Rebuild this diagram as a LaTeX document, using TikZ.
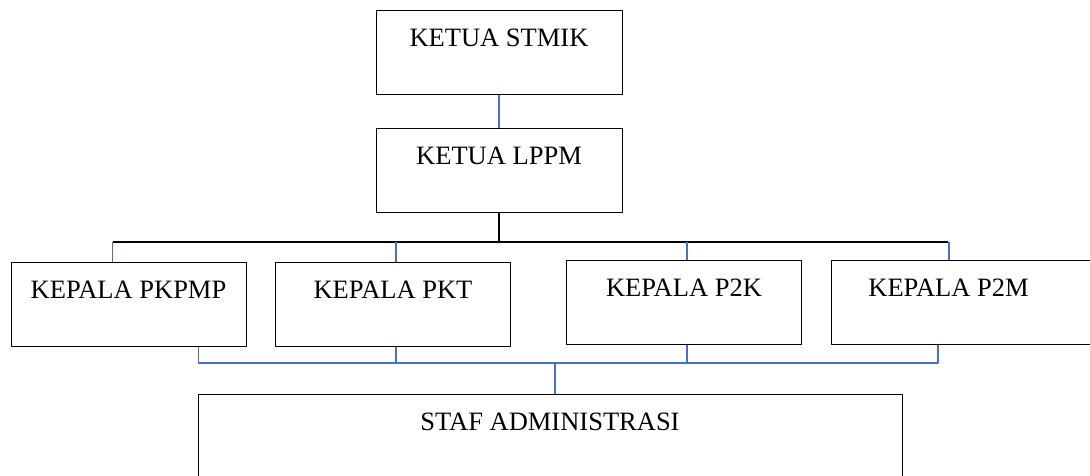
\documentclass[tikz,border=0pt]{standalone}
\usepackage{fontspec}
\setmainfont{Liberation Serif}
\definecolor{garisbiru}{RGB}{68,114,196}
\tikzset{
  kotak/.style={draw, line width=1pt, inner sep=0pt, minimum width=235pt,
    text height=36pt, text depth=48pt, anchor=north,
    font=\fontsize{26.5}{30}\selectfont},
  biru/.style={draw=garisbiru, line width=1.5pt},
  hitam/.style={draw=black, line width=1.5pt}
}
\begin{document}
\begin{tikzpicture}[x=1pt, y=-1pt, line join=round]
\useasboundingbox (0,0) rectangle (1090,475);
\node[kotak, minimum width=246pt] (stmik) at (499,10) {KETUA STMIK};
\node[kotak, minimum width=246pt] (lppm) at (499,128) {KETUA LPPM};
\node[kotak] (pkpmp) at (128.5,262) {KEPALA PKPMP};
\node[kotak] (pkt) at (393,262) {KEPALA PKT};
\node[kotak] (ptk) at (684,260) {KEPALA P2K};
\node[kotak, minimum width=270pt, anchor=north west] (ptm) at (831,260) {KEPALA P2M\hspace*{36pt}};
\node[kotak, minimum width=704pt] (staf) at (550,394) {STAF ADMINISTRASI};
\coordinate (atas) at (0,242);
\coordinate (bawah) at (0,363);
% garis ke atas
\draw[biru] (stmik.south) -- (lppm.north);
\draw[hitam] (lppm.south) -- (lppm.south |- atas);
\draw[hitam] ([xshift=-16pt]pkpmp.north |- atas) -- ([xshift=1pt]pkt.north |- atas)
  -- ([xshift=117pt]ptm.north west |- atas);
\draw[biru] ([xshift=-16pt]pkpmp.north |- atas) -- ([xshift=-16pt]pkpmp.north);
\draw[biru] ([xshift=3pt]pkt.north |- atas) -- ([xshift=3pt]pkt.north);
\draw[biru] ([xshift=3pt]ptk.north |- atas) -- ([xshift=3pt]ptk.north);
\draw[biru] ([xshift=118pt]ptm.north west |- atas) -- ([xshift=118pt]ptm.north west);
% garis ke bawah
\draw[biru] ([xshift=70pt]pkpmp.south) -- ([xshift=70pt]pkpmp.south |- bawah)
  -- ([xshift=107pt]ptm.south west |- bawah) -- ([xshift=107pt]ptm.south west);
\draw[biru] ([xshift=3pt]pkt.south) -- ([xshift=3pt]pkt.south |- bawah);
\draw[biru] ([xshift=3pt]ptk.south) -- ([xshift=3pt]ptk.south |- bawah);
\draw[biru] ([xshift=5pt]staf.north |- bawah) -- ([xshift=5pt]staf.north);
\end{tikzpicture}
\end{document}
